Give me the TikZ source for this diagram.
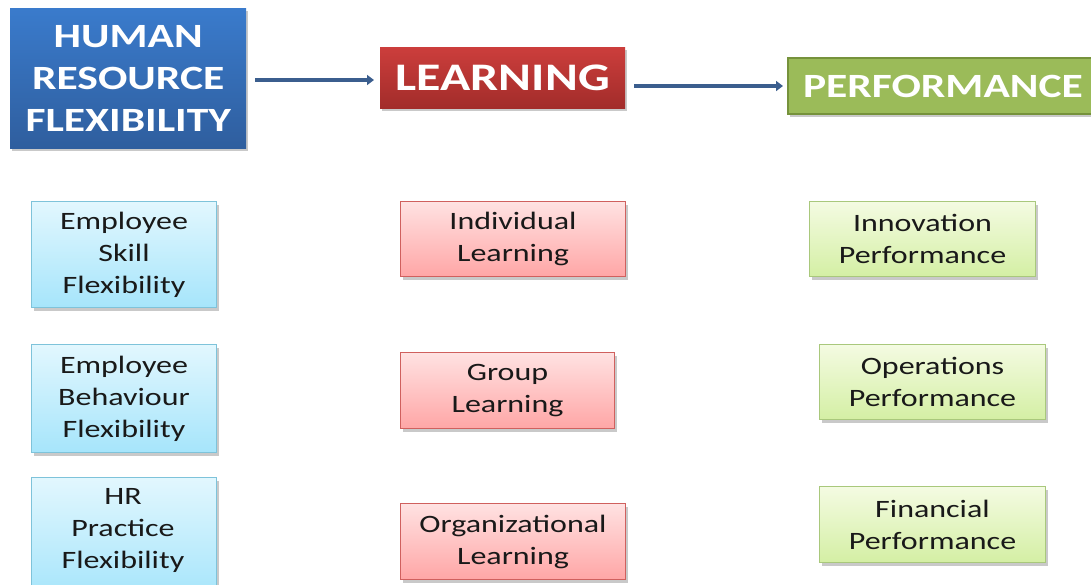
\documentclass[tikz,border=0pt]{standalone}
\usepackage{fontspec}
\setmainfont{Carlito}[FakeStretch=1.28]
\usetikzlibrary{shadows,arrows.meta}
\definecolor{hrblue}{HTML}{3A7BCC}
\definecolor{hrblueb}{HTML}{2F5E9E}
\definecolor{lred}{HTML}{CC3E3C}
\definecolor{lredb}{HTML}{A22C2A}
\definecolor{pgreen}{HTML}{9BBB59}
\definecolor{pgreenb}{HTML}{76923C}
\definecolor{arrowblue}{HTML}{3B5E8E}
\definecolor{cyantop}{HTML}{E2F7FE}
\definecolor{cyanbot}{HTML}{A6E5FB}
\definecolor{cyanedge}{HTML}{7EC3DA}
\definecolor{pinktop}{HTML}{FFE2E2}
\definecolor{pinkbot}{HTML}{FFA6A6}
\definecolor{pinkedge}{HTML}{D0605E}
\definecolor{greentop}{HTML}{F4FBE2}
\definecolor{greenbot}{HTML}{D4EFA4}
\definecolor{greenedge}{HTML}{A9C87C}
\tikzset{
  x=1pt, y=-1pt,
  base/.style={rectangle, inner sep=0pt, align=center, anchor=north west,
    drop shadow={shadow xshift=2pt, shadow yshift=-3pt, opacity=0.35, fill=black!60}},
  headbox/.style={base, text=white, font=\bfseries\fontsize{34}{42}\selectfont},
  smalltext/.style={font=\fontsize{25}{32}\selectfont, text=black!90},
  cyanbox/.style={base, draw=cyanedge, line width=1pt, top color=cyantop, bottom color=cyanbot, smalltext},
  pinkbox/.style={base, draw=pinkedge, line width=1pt, top color=pinktop, bottom color=pinkbot, smalltext},
  greenbox/.style={base, draw=greenedge, line width=1pt, top color=greentop, bottom color=greenbot, smalltext},
  conn/.style={draw=arrowblue, line width=3.5pt, -{Triangle[length=7pt,width=10pt]}}
}
\begin{document}
\begin{tikzpicture}
\useasboundingbox (0,0) rectangle (1091,584);
\fill[white] (0,0) rectangle (1091,584);
% headers
\node[headbox, top color=hrblue, bottom color=hrblueb, minimum width=236pt, minimum height=140pt] (hrf) at (10,8) {HUMAN\\RESOURCE\\FLEXIBILITY};
\node[headbox, top color=lred, bottom color=lredb, minimum width=245pt, minimum height=61pt, font=\bfseries\fontsize{39}{42}\selectfont] (learn) at (380,47) {LEARNING};
\node[headbox, fill=pgreen, draw=pgreenb, line width=2pt, minimum width=310pt, minimum height=56pt, font=\bfseries\fontsize{34}{36}\selectfont, text width=310pt, align=left] (perf) at (787,57) {\hspace*{15pt}PERFORMANCE};
\coordinate (a1s) at (255,80);
\coordinate (a1e) at (374,80);
\coordinate (a2s) at (634,86);
\coordinate (a2e) at (783,86);
\draw[conn] (a1s) -- (a1e);
\draw[conn] (a2s) -- (a2e);
% left column
\node[cyanbox, minimum width=185pt, minimum height=106pt] (esf) at (31,201) {Employee\\Skill\\Flexibility};
\node[cyanbox, minimum width=185pt, minimum height=108pt] (ebf) at (31,344) {Employee\\Behaviour\\Flexibility};
\node[cyanbox, minimum width=185pt, minimum height=120pt] (hrp) at (31,477) {};
\node[smalltext, align=center, anchor=north] (hrpt) at (123,485) {HR\\Practice\\Flexibility};
% middle column
\node[pinkbox, minimum width=225pt, minimum height=75pt] (il) at (400,201) {Individual\\Learning};
\node[pinkbox, minimum width=214pt, minimum height=76pt] (gl) at (400,352) {Group\\Learning};
\node[pinkbox, minimum width=225pt, minimum height=76pt] (ol) at (400,503) {Organizational\\Learning};
% right column
\node[greenbox, minimum width=226pt, minimum height=75pt] (ip) at (809,201) {Innovation\\Performance};
\node[greenbox, minimum width=226pt, minimum height=75pt] (op) at (819,344) {Operations\\Performance};
\node[greenbox, minimum width=226pt, minimum height=76pt] (fp) at (819,486) {Financial\\Performance};
\end{tikzpicture}
\end{document}
